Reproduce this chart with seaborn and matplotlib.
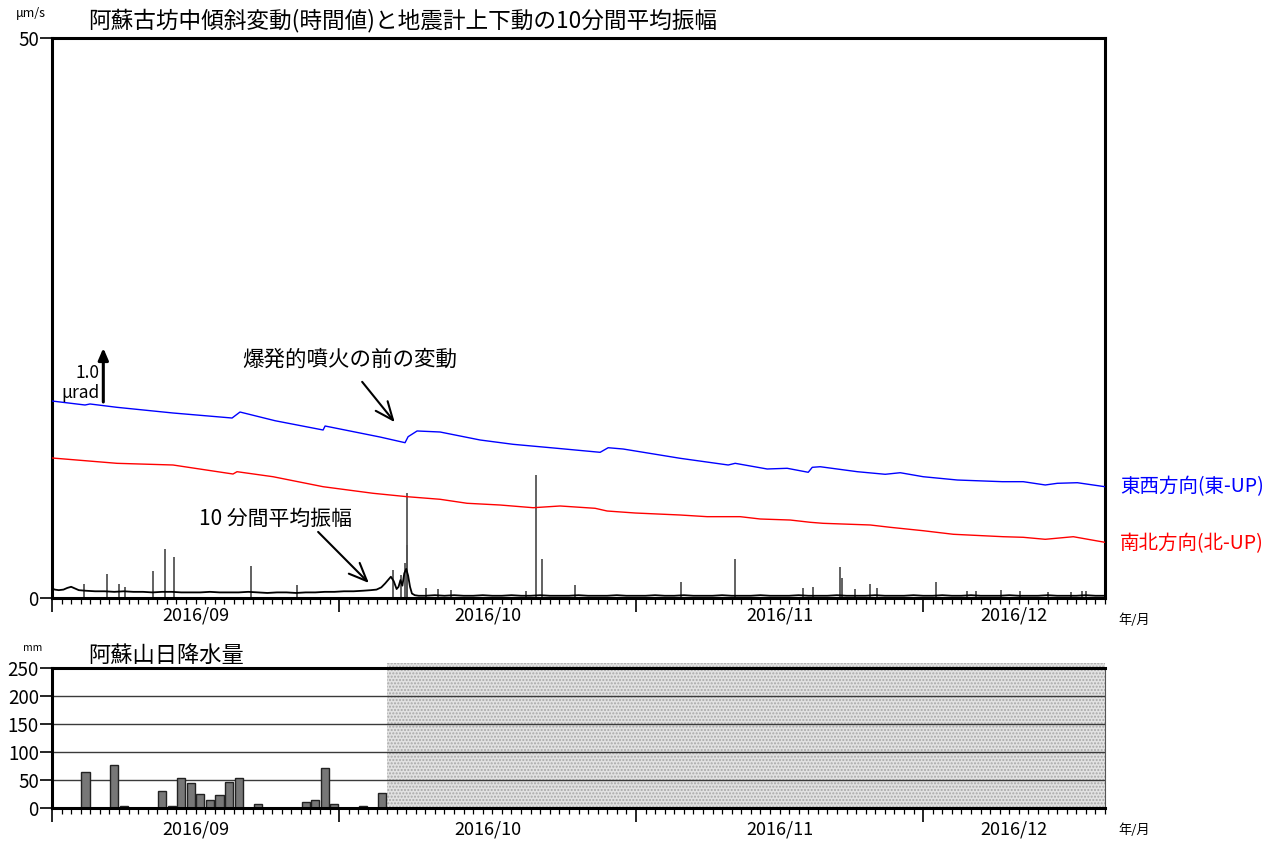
import numpy as np
import pandas as pd
import matplotlib
matplotlib.use("Agg")
import matplotlib.pyplot as plt
import seaborn as sns

sns.set_theme(style="ticks")
plt.rcParams['font.family'] = ['Noto Sans CJK JP', 'DejaVu Sans']
plt.rcParams['axes.unicode_minus'] = False
plt.rcParams['hatch.linewidth'] = 1.0
for key in ('text.color', 'axes.labelcolor', 'xtick.color', 'ytick.color', 'axes.edgecolor'):
    plt.rcParams[key] = 'black'

# ---- time axis (days since 2016-09-01 00:00) ----
month_starts = [0, 30, 61, 91]
month_label_days = [15, 45.5, 76, 100.5]
month_labels = ['2016/09', '2016/10', '2016/11', '2016/12']
x_end = 110

# ---- tilt (hourly values, micro-radians, arbitrary offset) ----
ew_day = [0.0, 3.45, 3.97, 6.79, 12.64, 18.81, 19.64, 23.3, 28.32, 28.53, 34.27, 36.88,
          37.2, 38.14, 40.54, 44.72, 48.17, 52.77, 57.26, 58.1, 59.67, 65.62, 70.64,
          71.37, 74.71, 76.8, 79.0, 79.42, 80.25, 84.12, 87.04, 88.61, 91.01, 94.57,
          99.27, 101.46, 103.76, 105.02, 107.11, 110.0]
ew_urad = [3.648, 3.574, 3.593, 3.531, 3.426, 3.333, 3.444, 3.283, 3.111, 3.185, 2.981, 2.876,
           2.987, 3.093, 3.074, 2.926, 2.846, 2.772, 2.698, 2.783, 2.759, 2.587, 2.463,
           2.494, 2.389, 2.402, 2.328, 2.420, 2.431, 2.339, 2.291, 2.320, 2.246, 2.185,
           2.154, 2.154, 2.093, 2.124, 2.135, 2.061]

ns_day = [0.0, 6.79, 12.64, 18.91, 19.33, 23.09, 28.32, 33.54, 37.1, 40.54, 43.36, 46.81,
          50.26, 53.08, 56.74, 57.99, 60.92, 65.62, 68.44, 71.89, 73.98, 77.12, 79.21,
          80.56, 85.48, 87.57, 91.01, 94.15, 99.37, 101.46, 103.76, 106.69, 110.0]
ns_urad = [2.593, 2.494, 2.463, 2.296, 2.339, 2.246, 2.061, 1.939, 1.876, 1.828, 1.754, 1.722,
           1.672, 1.704, 1.661, 1.611, 1.574, 1.537, 1.506, 1.506, 1.463, 1.444, 1.402,
           1.383, 1.352, 1.309, 1.246, 1.180, 1.135, 1.124, 1.087, 1.135, 1.031]

# ---- 10-minute mean amplitude of vertical seismometer (um/s) ----
amp_day_pre = [0, 0.3, 0.7, 1.2, 1.6, 2.0, 2.4, 2.8,
               3.5, 4.5, 5.5, 6.5, 7.5, 8.5, 9.5, 10.5, 11.5, 12.5,
               13.5, 14.5, 15.5, 16.5, 17.5, 18.5, 19.5, 20.5, 21.5, 22.5,
               23.5, 24.5, 25.5, 26.5, 27.5, 28.5, 29.5, 30.5, 31.5, 32.5,
               33.3, 33.9, 34.4, 34.8, 35.1, 35.4, 35.7, 36.0, 36.2, 36.4,
               36.6, 36.8, 37.0, 37.2, 37.4, 37.6, 37.9, 38.3]
amp_base_pre = [0.85, 0.75, 0.7, 0.75, 0.9, 1.0, 0.85, 0.7,
                0.65, 0.6, 0.6, 0.55, 0.6, 0.55, 0.55, 0.5, 0.55, 0.55,
                0.5, 0.5, 0.5, 0.55, 0.5, 0.5, 0.5, 0.55, 0.5, 0.45,
                0.5, 0.5, 0.45, 0.5, 0.5, 0.55, 0.55, 0.6, 0.6, 0.65,
                0.7, 0.75, 0.95, 1.3, 1.6, 1.9, 1.5, 0.8, 1.0, 1.6,
                1.1, 2.2, 2.6, 2.0, 1.0, 0.4, 0.25, 0.2]
amp_day_post = list(range(39, 111))
amp_base_post = [0.2, 0.25, 0.2, 0.25, 0.2, 0.2, 0.25, 0.2, 0.2, 0.25, 0.2, 0.2,
                 0.25, 0.2, 0.2, 0.2, 0.25, 0.2, 0.2, 0.2, 0.25, 0.2, 0.2, 0.2,
                 0.25, 0.2, 0.2, 0.25, 0.2, 0.2, 0.2, 0.25, 0.2, 0.2, 0.2, 0.25,
                 0.2, 0.2, 0.2, 0.25, 0.2, 0.2, 0.2, 0.25, 0.2, 0.2, 0.2, 0.25,
                 0.2, 0.2, 0.2, 0.25, 0.2, 0.2, 0.25, 0.2, 0.2, 0.25, 0.2, 0.2,
                 0.2, 0.25, 0.2, 0.2, 0.2, 0.25, 0.2, 0.2, 0.2, 0.25, 0.2, 0.2]
spike_day = [0.15, 3.3, 5.7, 7.0, 7.6, 10.5, 11.8, 12.7, 20.8, 25.6, 35.6, 36.5, 36.9,
             37.05, 37.1, 39.1, 40.3, 41.7, 49.5, 50.6, 51.2, 54.6, 65.7, 71.4, 78.4,
             79.5, 82.3, 82.5, 83.9, 85.5, 86.2, 92.3, 95.6, 96.5, 99.1, 101.1, 104.0,
             106.5, 107.6, 108.0]
spike_amp = [7.4, 1.25, 2.1, 1.25, 1.0, 2.4, 4.4, 3.7, 2.9, 1.2, 2.5, 2.05, 3.1,
             4.7, 9.4, 0.9, 0.8, 0.75, 0.6, 11.0, 3.5, 1.15, 1.45, 3.5, 0.9,
             1.0, 2.8, 1.8, 0.8, 1.25, 0.9, 1.4, 0.6, 0.6, 0.7, 0.6, 0.5,
             0.5, 0.65, 0.65]

# ---- daily precipitation at Asosan (mm) ----
rain_day = [3, 6, 7, 11, 12, 13, 14, 15, 16, 17, 18, 19, 21, 26, 27, 28, 29, 32, 34]
rain_mm = [64, 77, 4, 31, 4, 54, 45, 25, 14, 23, 46, 54, 7, 10, 14, 71, 8, 3, 26]
rain_missing_from = 35

W, H = 1275, 843
fig = plt.figure(figsize=(W / 100, H / 100), dpi=100)
ax = fig.add_axes([52 / W, 1 - 598 / H, 1053 / W, 560 / H])
axr = fig.add_axes([52 / W, 1 - 808 / H, 1053 / W, 140 / H])


def style_time_axis(a, label_offset):
    a.set_xlim(0, x_end)
    a.set_xticks(month_starts)
    a.set_xticks(np.arange(0, x_end + 1), minor=True)
    a.set_xticklabels([])
    a.tick_params(axis='x', which='major', length=10, width=1.2, direction='out', bottom=True)
    a.tick_params(axis='x', which='minor', length=4.5, width=0.9, direction='out', bottom=True)
    for d, lab in zip(month_label_days, month_labels):
        a.annotate(lab, xy=(d, 0), xycoords=('data', 'axes fraction'),
                   xytext=(0, -label_offset), textcoords='offset pixels',
                   ha='center', va='center', fontsize=13)
    a.tick_params(axis='y', which='major', length=8.5, width=1.2, direction='out',
                  left=True, labelsize=13.5, pad=1)


# ---- upper panel ----
tilt_ew = pd.DataFrame({'day': ew_day, 'urad': ew_urad})
tilt_ns = pd.DataFrame({'day': ns_day, 'urad': ns_urad})
amp = pd.DataFrame({'day': amp_day_pre + amp_day_post, 'amp': amp_base_pre + amp_base_post})

ax.vlines(spike_day, 0, spike_amp, color='#555555', lw=1.3, zorder=2)
sns.lineplot(data=amp, x='day', y='amp', ax=ax, color='black', lw=1.3, zorder=3)
ax.set_ylim(0, 50)
ax.set_yticks([0, 50])
ax.set_xlabel('')
ax.set_ylabel('')
for sp in ax.spines.values():
    sp.set_visible(True)
    sp.set_linewidth(2.2)
    sp.set_color('black')
style_time_axis(ax, 17)

ax2 = ax.twinx()
sns.lineplot(data=tilt_ew, x='day', y='urad', ax=ax2, color='#0000ff', lw=1.0)
sns.lineplot(data=tilt_ns, x='day', y='urad', ax=ax2, color='#ff0000', lw=1.0)
ax2.set_ylim(0, 560 / 54)
ax2.set_xlim(0, x_end)
ax2.set_yticks([])
ax2.set_xlabel('')
ax2.set_ylabel('')
for sp in ax2.spines.values():
    sp.set_visible(False)

# tilt scale bar (1.0 micro-radian)
ax2.annotate('', xy=(5.36, 4.63), xytext=(5.36, 3.63),
             arrowprops=dict(arrowstyle='-|>,head_length=0.7,head_width=0.3', lw=2.2,
                             color='black', mutation_scale=10, shrinkA=0, shrinkB=0))
ax2.text(5.0, 4.17, '1.0', ha='right', va='center', fontsize=12.5)
ax2.text(5.0, 3.80, 'μrad', ha='right', va='center', fontsize=12.5)

arrow_kw = dict(arrowstyle='->,head_length=1.3,head_width=0.55', lw=1.5,
                color='black', mutation_scale=10, shrinkA=0, shrinkB=0)
ax.text(31.1, 21.25, '爆発的噴火の前の変動', ha='center', va='center', fontsize=15.5)
ax.annotate('', xy=(35.8, 15.7), xytext=(32.4, 19.3), arrowprops=arrow_kw)
ax.text(23.3, 7.1, '10 分間平均振幅', ha='center', va='center', fontsize=15)
ax.annotate('', xy=(33.1, 1.34), xytext=(27.8, 5.9), arrowprops=arrow_kw)

fig.text(88 / W, 1 - 20 / H, '阿蘇古坊中傾斜変動(時間値)と地震計上下動の10分間平均振幅',
         ha='left', va='center', fontsize=16.3)
fig.text(31 / W, 1 - 13 / H, 'μm/s', ha='center', va='center', fontsize=9)
fig.text(1120 / W, 1 - 487 / H, '東西方向(東-UP)', ha='left', va='center',
         fontsize=14, color='#0000ff')
fig.text(1120 / W, 1 - 544 / H, '南北方向(北-UP)', ha='left', va='center',
         fontsize=14, color='#ff0000')
fig.text(1118 / W, 1 - 620 / H, '年/月', ha='left', va='center', fontsize=9.5)

# ---- lower panel: daily precipitation ----
axr.axvspan(rain_missing_from, x_end, ymin=0, ymax=1.035, facecolor='#e2e2e2',
            edgecolor='#a8a8a8', hatch='.....', lw=0, zorder=0.4, clip_on=False)
axr.bar(np.array(rain_day) + 0.5, rain_mm, width=0.85, color='#777777',
        edgecolor='#222222', lw=1.0, zorder=2)
axr.set_ylim(0, 250)
axr.set_yticks(range(0, 251, 50))
axr.yaxis.grid(True, color='#3a3a3a', lw=1.0)
axr.set_axisbelow(True)
for name, sp in axr.spines.items():
    sp.set_visible(True)
    sp.set_color('black')
    sp.set_linewidth(2.2)
axr.spines['right'].set_linewidth(0.8)
axr.spines['right'].set_color('#555555')
style_time_axis(axr, 21)

fig.text(88 / W, 1 - 655 / H, '阿蘇山日降水量', ha='left', va='center', fontsize=16)
fig.text(33 / W, 1 - 648 / H, 'mm', ha='center', va='center', fontsize=7.5)
fig.text(1118 / W, 1 - 830 / H, '年/月', ha='left', va='center', fontsize=9.5)

fig.savefig('out.png', dpi=100, facecolor='white')
